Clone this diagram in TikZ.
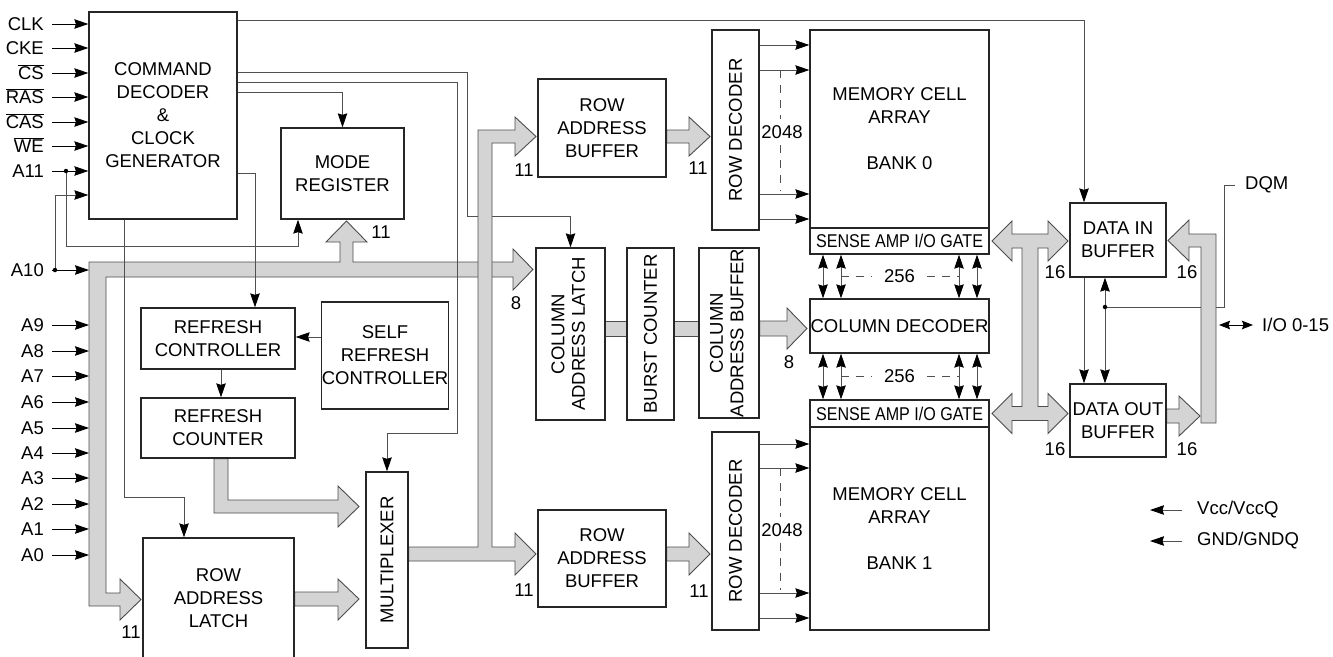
\documentclass[tikz,border=0pt]{standalone}
\usepackage{fontspec}
\setmainfont{Liberation Sans}
\usepackage{graphicx}
\usetikzlibrary{arrows.meta,backgrounds}
\definecolor{busgray}{RGB}{212,212,212}
\definecolor{inkgray}{RGB}{80,80,80}
\newcommand{\fs}{\fontsize{18.5}{23}\selectfont}
\tikzset{
  >={Stealth[length=14pt,width=9.5pt,inset=1.5pt,color=black]},
  blk/.style={draw=black!85, line width=1.3pt, fill=white, align=center, inner sep=0pt},
  wire/.style={line width=0.9pt, draw=inkgray},
  arr/.style={wire, ->},
  darr/.style={wire, <->},
  iodarr/.style={line width=1pt, draw=black, {Stealth[length=11pt,width=8.5pt,inset=1.5pt]}-{Stealth[length=11pt,width=8.5pt,inset=1.5pt]}},
  pinarr/.style={line width=1pt, draw=black, ->, shorten <=8pt},
  dash2/.style={wire, dash pattern=on 8pt off 7pt},
  bus/.style={draw=black!70, line width=0.9pt, fill=busgray, line join=miter},
  pinlbl/.style={anchor=east, inner sep=0pt, text height=13pt, text depth=0pt},
  num/.style={inner sep=0pt},
  jdot/.style={circle, fill=black, inner sep=0pt, minimum size=4.5pt},
}
\begin{document}
\begin{tikzpicture}[x=1pt,y=-1pt,font=\fs]
  \useasboundingbox (0,0) rectangle (1333,656);
  \clip (0,0) rectangle (1333,656);

  % ---------- control and refresh blocks ----------
  \node[blk, minimum width=148pt, minimum height=207pt] (cmd) at (163,115.5) {COMMAND\\DECODER\\\&\\CLOCK\\GENERATOR};
  \node[blk, minimum width=123pt, minimum height=91pt] (mode) at (342.5,173.5) {MODE\\REGISTER};
  \node[blk, minimum width=154pt, minimum height=61pt] (rctl) at (218,338.5) {REFRESH\\CONTROLLER};
  \node[blk, minimum width=124pt, minimum height=107pt] (srctl) at (385,355.5) {SELF\\REFRESH\\CONTROLLER};
  \node[blk, minimum width=154pt, minimum height=60pt] (rcnt) at (218,428) {REFRESH\\COUNTER};
  \node[blk, minimum width=151pt, minimum height=120pt] (ral) at (218.5,598) {ROW\\ADDRESS\\LATCH};
  \node[blk, minimum width=42pt, minimum height=176pt] (mux) at (387,560) {\rotatebox{90}{MULTIPLEXER}};

  % ---------- row path ----------
  \node[blk, minimum width=128pt, minimum height=98pt] (rab0) at (602,128) {ROW\\ADDRESS\\BUFFER};
  \node[blk, minimum width=128pt, minimum height=97pt] (rab1) at (602,558.5) {ROW\\ADDRESS\\BUFFER};
  \node[blk, minimum width=47pt, minimum height=200pt] (rdec0) at (735.5,130) {\rotatebox{90}{ROW DECODER}};
  \node[blk, minimum width=47pt, minimum height=198pt] (rdec1) at (735.5,531) {\rotatebox{90}{ROW DECODER}};

  % ---------- column path ----------
  \node[blk, minimum width=69pt, minimum height=172pt] (cal) at (570.5,334)
    {\rotatebox{90}{\def\arraystretch{0.9}\begin{tabular}{@{}c@{}}COLUMN\\ADDRESS LATCH\end{tabular}}};
  \node[blk, minimum width=47pt, minimum height=172pt] (bcnt) at (650.5,334) {\rotatebox{90}{BURST COUNTER}};
  \node[blk, minimum width=60pt, minimum height=170pt] (cab) at (729,333)
    {\rotatebox{90}{\def\arraystretch{0.9}\begin{tabular}{@{}c@{}}COLUMN\\ADDRESS BUFFER\end{tabular}}};

  % ---------- memory banks ----------
  \node[blk, minimum width=179pt, minimum height=198pt] (mem0) at (899.5,129) {MEMORY CELL\\ARRAY\\[23pt]BANK 0};
  \node[blk, minimum width=179pt, minimum height=26pt] (sa0) at (899.5,241) {\scalebox{0.87}[1]{SENSE AMP I/O GATE}};
  \node[blk, minimum width=179pt, minimum height=54pt] (cdec) at (899.5,326) {COLUMN DECODER};
  \node[blk, minimum width=179pt, minimum height=27pt] (sa1) at (899.5,413.5) {\scalebox{0.87}[1]{SENSE AMP I/O GATE}};
  \node[blk, minimum width=179pt, minimum height=203pt] (mem1) at (899.5,528.5) {MEMORY CELL\\ARRAY\\[23pt]BANK 1};

  % ---------- data buffers ----------
  \node[blk, minimum width=96pt, minimum height=74pt] (din) at (1118,240) {DATA IN\\BUFFER};
  \node[blk, minimum width=96pt, minimum height=73pt] (dout) at (1118,420.5) {DATA OUT\\BUFFER};

  % ---------- pins ----------
  \coordinate (busL) at (89,0);
  \foreach \nm/\y/\txt in {clk/24/CLK, cke/48/CKE, cs/73/$\overline{\hbox{CS}}$, ras/97/$\overline{\hbox{RAS}}$,
      cas/122/$\overline{\hbox{CAS}}$, we/146/$\overline{\hbox{WE}}$, a11/171/A11}{
    \node[pinlbl] (p\nm) at (44,\y) {\txt};
    \draw[pinarr] (p\nm.east) -- (p\nm -| cmd.west);
  }
  \node[pinlbl] (pa10) at (44,270) {A10};
  \draw[pinarr] (pa10.east) -- (pa10 -| busL);
  \foreach \n/\y in {9/325,8/351,7/376,6/402,5/428,4/453,3/478,2/504,1/529,0/555}{
    \node[pinlbl] (pa\n) at (44,\y) {A\n};
    \draw[pinarr] (pa\n.east) -- (pa\n -| busL);
  }
  \node[jdot] (d11) at (66,171) {};
  \node[jdot] (d10) at (55,270) {};
  \node[jdot] (ddq) at (1105,307) {};

  % ---------- labels ----------
  \node[num] (n11m) at (381,232) {11};
  \node[num] (n8a) at (516,303) {8};
  \node[num] (n11r) at (131,632) {11};
  \node[num] (n11a) at (524,170) {11};
  \node[num] (n11b) at (698,168) {11};
  \node[num] (n11c) at (524,590) {11};
  \node[num] (n11d) at (699,591) {11};
  \node[num] (n8b) at (789,362) {8};
  \node[num] (n2048a) at (782,132) {2048};
  \node[num] (n2048b) at (782,530) {2048};
  \node[num] (n256a) at (899.5,276.5) {256};
  \node[num] (n256b) at (899.5,376.5) {256};
  \node[num] (n16a) at (1055,272) {16};
  \node[num] (n16b) at (1187,272) {16};
  \node[num] (n16c) at (1055,449) {16};
  \node[num] (n16d) at (1187,449) {16};
  \node[num, anchor=west] (dqm) at (1245,185) {DQM};
  \node[num, anchor=west] (io) at (1262,325) {I/O 0-15};
  \node[num, anchor=west] (vcc) at (1197,510) {Vcc/VccQ};
  \node[num, anchor=west] (gnd) at (1197,541) {GND/GNDQ};
  \coordinate (iobus) at (1219,325);

  \begin{pgfonlayer}{background}
    % address bus from the pins
    \draw[bus] (89,262) -- (89,606) -- (120,606) -- (120,620) -- (141,599.5) -- (120,579) -- (120,593)
      -- (106,593) -- (106,277) -- (513,277) -- (513,290) -- (533,269.5) -- (513,249) -- (513,262)
      -- (353,262) -- (353,242) -- (367,242) -- (346.5,221) -- (326,242) -- (340,242) -- (340,262) -- cycle;

    % control wires
    \draw[arr] (cmd.east |- 0,20) -| (din.north -| 1084,0);
    \draw[arr] (cmd.east |- 0,72) -- (467,72) -- (467,216) -| (cal.north);
    \draw[arr] (cmd.east |- 0,82) -- (457,82) -- (457,433) -| (mux.north);
    \draw[arr] (cmd.east |- 0,92) -| (mode.north);
    \draw[arr] (cmd.east |- 0,173) -| (rctl.north -| 255,0);
    \draw[arr] (cmd.south -| 124,0) |- (184,497) -- (ral.north -| 184,0);
    \draw[arr] (d11) -- (66,246) -| (mode.south -| 298,0);
    \draw[arr] (d10) |- (cmd.west |- 0,195);
    \draw[arr] (srctl.west |- 0,337) -- (rctl.east |- 0,337);
    \draw[arr] (rctl.south -| 221,0) -- (rcnt.north -| 221,0);

    % multiplexer output bus
    \draw[bus] (mux.east |- 0,547) -- (478,547) -- (478,130) -- (515,130) -- (515,117) -- (536,136.5)
      -- (515,156) -- (515,143) -- (492,143) -- (492,547) -- (515,547) -- (515,533) -- (536,554)
      -- (515,575) -- (515,561) -- (mux.east |- 0,561) -- cycle;
    \draw[bus] (rcnt.south -| 214,0) -- (214,513) -- (338,513) -- (338,527) -- (359,506.5) -- (338,486)
      -- (338,500) -- (228,500) -- (rcnt.south -| 228,0) -- cycle;
    \draw[bus] (ral.east |- 0,592) -- (338,592) -- (338,579) -- (359,599) -- (338,620) -- (338,606)
      -- (ral.east |- 0,606) -- cycle;

    % row buffers to row decoders
    \draw[bus] (rab0.east |- 0,130) -- (689,130) -- (689,117) -- (710,136.5) -- (689,156) -- (689,143)
      -- (rab0.east |- 0,143) -- cycle;
    \draw[bus] (rab1.east |- 0,547) -- (689,547) -- (689,533) -- (710,554) -- (689,575) -- (689,561)
      -- (rab1.east |- 0,561) -- cycle;
    \foreach \y in {45,70,194,219} \draw[arr] (rdec0.east |- 0,\y) -- (mem0.west |- 0,\y);
    \foreach \y in {444,468,593,618} \draw[arr] (rdec1.east |- 0,\y) -- (mem1.west |- 0,\y);
    \draw[dash2] (780,70) -- ([yshift=6pt]n2048a.north -| 780,0);
    \draw[dash2] ([yshift=-6pt]n2048a.south -| 780,0) -- (780,190);
    \draw[dash2] (780,468) -- ([yshift=6pt]n2048b.north -| 780,0);
    \draw[dash2] ([yshift=-6pt]n2048b.south -| 780,0) -- (780,590);

    % column path
    \draw[bus] (cal.east |- 0,321) rectangle (bcnt.west |- 0,336);
    \draw[bus] (bcnt.east |- 0,321) rectangle (cab.west |- 0,336);
    \draw[bus] (cab.east |- 0,321) -- (787,321) -- (787,308) -- (807,328.5) -- (787,349) -- (787,336)
      -- (cab.east |- 0,336) -- cycle;
    \foreach \x in {823,841,959,977}{
      \draw[darr] (sa0.south -| \x,0) -- (cdec.north -| \x,0);
      \draw[darr] (cdec.south -| \x,0) -- (sa1.north -| \x,0);
    }
    \draw[dash2] (841,276.5) -- ([xshift=-12pt]n256a.west);
    \draw[dash2] ([xshift=12pt]n256a.east) -- (959,276.5);
    \draw[dash2] (841,376.5) -- ([xshift=-12pt]n256b.west);
    \draw[dash2] ([xshift=12pt]n256b.east) -- (959,376.5);

    % data buffers
    \draw[arr] (din.south -| 1084,0) -- (dout.north -| 1084,0);
    \draw[darr] (din.south -| 1105,0) -- (dout.north -| 1105,0);
    \draw[wire] (ddq) -| (1224,185) -- ([xshift=-10pt]dqm.west);
    \draw[bus] (992,241) -- (1012,221) -- (1012,234) -- (1048,234) -- (1048,221) -- (1068,241) -- (1048,261)
      -- (1048,248) -- (1038,248) -- (1038,406.5) -- (1048,406.5) -- (1048,393.5) -- (1068,413.5)
      -- (1048,433.5) -- (1048,420.5) -- (1012,420.5) -- (1012,433.5) -- (992,413.5) -- (1012,393.5)
      -- (1012,406.5) -- (1022,406.5) -- (1022,248) -- (1012,248) -- (1012,261) -- cycle;
    \draw[bus] (1189,234) -- (1216,234) -- (1216,423) -- (1201,423) -- (1201,247) -- (1189,247)
      -- (1189,261) -- (1168,240.5) -- (1189,220) -- cycle;
    \draw[bus] (dout.east |- 0,409) -- (1179,409) -- (1179,396) -- (1200,416) -- (1179,436) -- (1179,423)
      -- (dout.east |- 0,423) -- cycle;
    \draw[iodarr] (iobus) -- ([xshift=-9pt]io.west);
    \draw[arr] ([xshift=-15pt]vcc.west) -- ++(-32,0);
    \draw[arr] ([xshift=-15pt]gnd.west) -- ++(-32,0);
  \end{pgfonlayer}
\end{tikzpicture}
\end{document}
